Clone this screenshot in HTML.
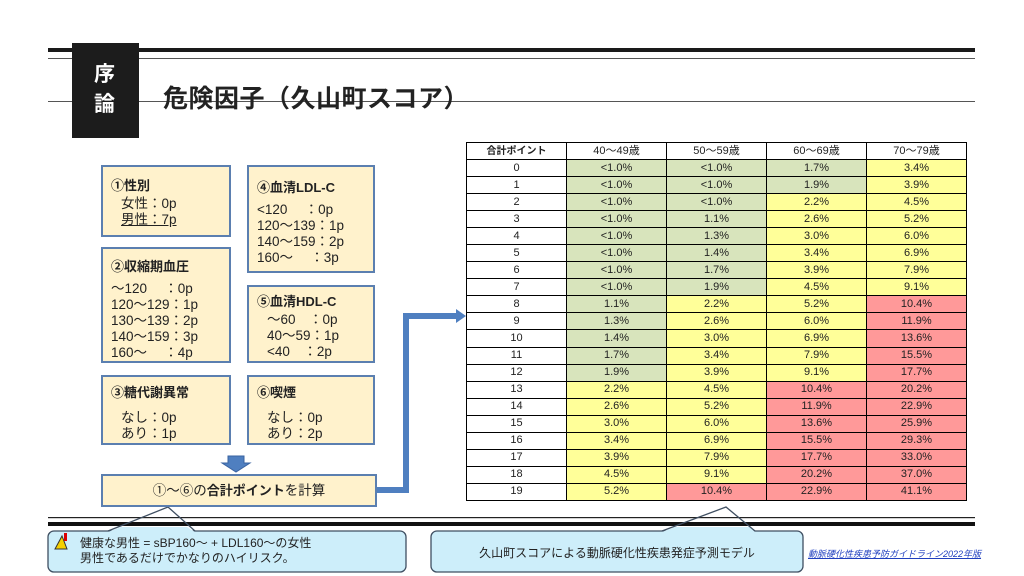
<!DOCTYPE html>
<html><head><meta charset="utf-8"><style>
*{margin:0;padding:0;box-sizing:border-box}
body{width:1024px;height:576px;background:#fff;position:relative;overflow:hidden;font-family:"Liberation Sans","Noto Sans CJK JP",sans-serif;color:#222}
.a{position:absolute}
.box{position:absolute;background:#fff2cc;border:2px solid #5b7fb0;font-size:13.5px;line-height:16px;padding:8px 8px}
.box b{font-weight:bold;display:block;margin-bottom:2px;font-size:13px}
table{position:absolute;left:466px;top:142px;border-collapse:collapse;font-size:11px}
td{border:1px solid #000;height:17.05px;text-align:center;width:100px;padding:0;line-height:15px}
tr:first-child td{height:17px}
.g{background:#d8e4bc}.y{background:#ffff99}.r{background:#ff9999}
</style></head><body>
<svg class="a" style="left:0;top:0" width="1024" height="576">
<rect x="48" y="48" width="927" height="4" fill="#1a1a1a"/>
<rect x="48" y="58" width="927" height="1" fill="#555"/>
<rect x="48" y="101" width="927" height="1" fill="#555"/>
<rect x="72" y="43" width="67" height="95" fill="#1c1c1c"/>
<rect x="48" y="517" width="927" height="1.2" fill="#222"/>
<rect x="48" y="522" width="927" height="4" fill="#111"/>
<polygon points="228,456 244,456 244,463 250,463 236,472 222,463 228,463" fill="#4f7fc0" stroke="#3a63a0"/>
<polyline points="377,490 406,490 406,316 458,316" fill="none" stroke="#4f7fc0" stroke-width="6"/>
<polygon points="456,309 466,316 456,323" fill="#4f7fc0"/>
<rect x="48" y="531" width="358" height="41" rx="6" fill="#cdeefa" stroke="#3f4f62" stroke-width="1.3"/>
<polygon points="121,527 187,527 195,532 108,532" fill="#cdeefa"/>
<polyline points="108,531 168,507 195,531" fill="none" stroke="#3f4f62" stroke-width="1.3"/>
<rect x="431" y="531" width="372" height="41" rx="6" fill="#cdeefa" stroke="#3f4f62" stroke-width="1.3"/>
<polygon points="675,527 750,527 755,532 662,532" fill="#cdeefa"/>
<polyline points="662,531 726,507 755,531" fill="none" stroke="#3f4f62" stroke-width="1.3"/>
<polygon points="55,549 62,536 67,549" fill="#f5d000" stroke="#333"/>
<rect x="64" y="533" width="3" height="8" fill="#d00"/>
</svg>
<div class="a" style="left:94px;top:60px;color:#fff;font-weight:bold;font-size:21px;line-height:30px;width:24px">序<br>論</div>
<div class="a" style="left:163px;top:79px;font-size:25px;font-weight:bold;color:#222;letter-spacing:0.5px">危険因子（久山町スコア）</div>
<div class="box" style="left:101px;top:165px;width:130px;height:72px;padding-top:11px"><b>①性別</b><div style="padding-left:10px">女性：0p<br><u>男性：7p</u></div></div>
<div class="box" style="left:247px;top:165px;width:128px;height:108px;padding-top:13px"><b>④血清LDL-C</b><div style="margin-top:6px">&lt;120　 ：0p<br>120～139：1p<br>140～159：2p<br>160～　 ：3p</div></div>
<div class="box" style="left:101px;top:247px;width:130px;height:116px;padding-top:10px"><b>②収縮期血圧</b><div style="margin-top:6px">～120　 ：0p<br>120～129：1p<br>130～139：2p<br>140～159：3p<br>160～　 ：4p</div></div>
<div class="box" style="left:247px;top:285px;width:128px;height:78px;padding-top:7px"><b>⑤血清HDL-C</b><div style="padding-left:10px">～60　：0p<br>40～59：1p<br>&lt;40　：2p</div></div>
<div class="box" style="left:101px;top:375px;width:130px;height:70px"><b style="margin-bottom:9px">③糖代謝異常</b><div style="padding-left:10px">なし：0p<br>あり：1p</div></div>
<div class="box" style="left:247px;top:375px;width:128px;height:70px"><b style="margin-bottom:9px">⑥喫煙</b><div style="padding-left:10px">なし：0p<br>あり：2p</div></div>
<div class="box" style="left:101px;top:474px;width:276px;height:33px;text-align:center;padding-top:7px">①～⑥の<b style="display:inline">合計ポイント</b>を計算</div>
<table>
<tr><td style="font-weight:bold;font-size:10px">合計ポイント</td><td>40～49歳</td><td>50～59歳</td><td>60～69歳</td><td>70～79歳</td></tr>
<tr><td>0</td><td class="g">&lt;1.0%</td><td class="g">&lt;1.0%</td><td class="g">1.7%</td><td class="y">3.4%</td></tr>
<tr><td>1</td><td class="g">&lt;1.0%</td><td class="g">&lt;1.0%</td><td class="g">1.9%</td><td class="y">3.9%</td></tr>
<tr><td>2</td><td class="g">&lt;1.0%</td><td class="g">&lt;1.0%</td><td class="y">2.2%</td><td class="y">4.5%</td></tr>
<tr><td>3</td><td class="g">&lt;1.0%</td><td class="g">1.1%</td><td class="y">2.6%</td><td class="y">5.2%</td></tr>
<tr><td>4</td><td class="g">&lt;1.0%</td><td class="g">1.3%</td><td class="y">3.0%</td><td class="y">6.0%</td></tr>
<tr><td>5</td><td class="g">&lt;1.0%</td><td class="g">1.4%</td><td class="y">3.4%</td><td class="y">6.9%</td></tr>
<tr><td>6</td><td class="g">&lt;1.0%</td><td class="g">1.7%</td><td class="y">3.9%</td><td class="y">7.9%</td></tr>
<tr><td>7</td><td class="g">&lt;1.0%</td><td class="g">1.9%</td><td class="y">4.5%</td><td class="y">9.1%</td></tr>
<tr><td>8</td><td class="g">1.1%</td><td class="y">2.2%</td><td class="y">5.2%</td><td class="r">10.4%</td></tr>
<tr><td>9</td><td class="g">1.3%</td><td class="y">2.6%</td><td class="y">6.0%</td><td class="r">11.9%</td></tr>
<tr><td>10</td><td class="g">1.4%</td><td class="y">3.0%</td><td class="y">6.9%</td><td class="r">13.6%</td></tr>
<tr><td>11</td><td class="g">1.7%</td><td class="y">3.4%</td><td class="y">7.9%</td><td class="r">15.5%</td></tr>
<tr><td>12</td><td class="g">1.9%</td><td class="y">3.9%</td><td class="y">9.1%</td><td class="r">17.7%</td></tr>
<tr><td>13</td><td class="y">2.2%</td><td class="y">4.5%</td><td class="r">10.4%</td><td class="r">20.2%</td></tr>
<tr><td>14</td><td class="y">2.6%</td><td class="y">5.2%</td><td class="r">11.9%</td><td class="r">22.9%</td></tr>
<tr><td>15</td><td class="y">3.0%</td><td class="y">6.0%</td><td class="r">13.6%</td><td class="r">25.9%</td></tr>
<tr><td>16</td><td class="y">3.4%</td><td class="y">6.9%</td><td class="r">15.5%</td><td class="r">29.3%</td></tr>
<tr><td>17</td><td class="y">3.9%</td><td class="y">7.9%</td><td class="r">17.7%</td><td class="r">33.0%</td></tr>
<tr><td>18</td><td class="y">4.5%</td><td class="y">9.1%</td><td class="r">20.2%</td><td class="r">37.0%</td></tr>
<tr><td>19</td><td class="y">5.2%</td><td class="r">10.4%</td><td class="r">22.9%</td><td class="r">41.1%</td></tr>
</table>
<div class="a" style="left:80px;top:536px;font-size:12px;line-height:15px">健康な男性 = sBP160～ + LDL160～の女性<br>男性であるだけでかなりのハイリスク。</div>
<div class="a" style="left:431px;top:544px;width:372px;text-align:center;font-size:12px">久山町スコアによる動脈硬化性疾患発症予測モデル</div>
<div class="a" style="left:808px;top:547px;font-size:9px;font-style:italic;color:#1f3fbf;text-decoration:underline">動脈硬化性疾患予防ガイドライン2022年版</div>
</body></html>
